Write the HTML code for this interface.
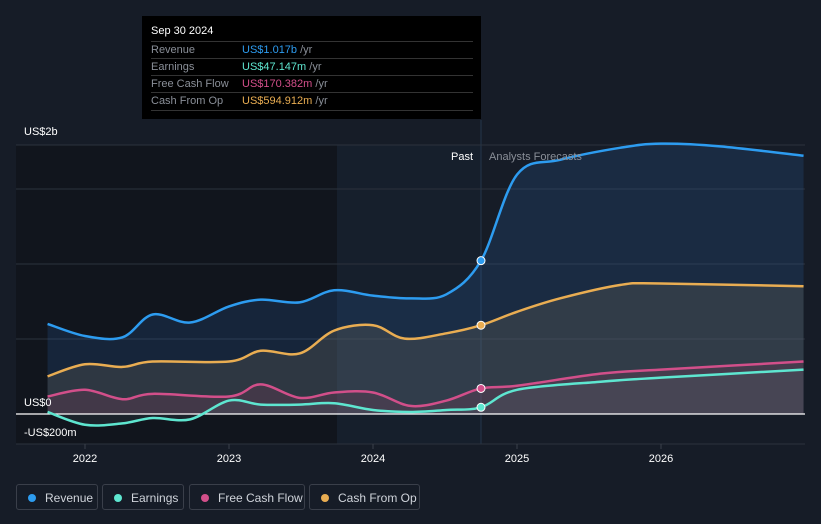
<!DOCTYPE html>
<html><head><meta charset="utf-8"><style>
body{margin:0;background:#161c27;width:821px;height:524px;overflow:hidden;font-family:"Liberation Sans",sans-serif}
svg{position:absolute;left:0;top:0}
.tt{position:absolute;left:142px;top:16px;width:339px;height:103px;background:#000;color:#fff;font-size:11px}
.tt .h{position:absolute;left:9px;top:9px;font-size:11px}
.row{position:absolute;left:9px;width:322px;height:17px;border-top:1px solid #333;line-height:17px;color:#8a8f98}
.row span{position:absolute;left:91px}
.lg{position:absolute;top:484px;height:26px;border:1px solid #3a3f4a;border-radius:3px;color:#cfd3da;font-size:12px;line-height:26px;box-sizing:border-box;padding-left:28px}
.lg i{position:absolute;left:11px;top:9px;width:8px;height:8px;border-radius:50%}
</style></head><body>
<svg width="821" height="524" id="chart"></svg>
<div class="tt">
<div class="h">Sep 30 2024</div>
<div class="row" style="top:25px">Revenue<span style="color:#2d9cf0">US$1.017b <b style="font-weight:normal;color:#8a8f98">/yr</b></span></div>
<div class="row" style="top:42px">Earnings<span style="color:#5ee6d0">US$47.147m <b style="font-weight:normal;color:#8a8f98">/yr</b></span></div>
<div class="row" style="top:59px">Free Cash Flow<span style="color:#d24f8a">US$170.382m <b style="font-weight:normal;color:#8a8f98">/yr</b></span></div>
<div class="row" style="top:76px;border-bottom:1px solid #333">Cash From Op<span style="color:#e9ad52">US$594.912m <b style="font-weight:normal;color:#8a8f98">/yr</b></span></div>
</div>
<div class="lg" style="left:16px;width:82px"><i style="background:#2d9cf0"></i>Revenue</div>
<div class="lg" style="left:102px;width:82px"><i style="background:#5ee6d0"></i>Earnings</div>
<div class="lg" style="left:189px;width:116px"><i style="background:#d24f8a"></i>Free Cash Flow</div>
<div class="lg" style="left:309px;width:111px"><i style="background:#e9ad52"></i>Cash From Op</div>
<script>
const revT=[2021.74,2022,2022.26,2022.47,2022.73,2023,2023.22,2023.49,2023.73,2024,2024.26,2024.51,2024.75,2025,2025.3,2025.72,2026,2026.41,2026.99];
const revV=[0.67,0.58,0.57,0.74,0.68,0.80,0.85,0.83,0.92,0.88,0.86,0.89,1.14,1.78,1.89,1.98,2.01,1.99,1.92];
const cfoT=[2021.74,2022,2022.26,2022.47,2023,2023.22,2023.49,2023.73,2024,2024.22,2024.51,2024.75,2025,2025.3,2025.72,2026,2026.99];
const cfoV=[0.28,0.37,0.35,0.39,0.39,0.47,0.45,0.62,0.66,0.56,0.60,0.66,0.76,0.86,0.96,0.97,0.95];
const fcfT=[2021.74,2022,2022.26,2022.47,2023,2023.22,2023.49,2023.73,2024,2024.26,2024.51,2024.75,2025,2025.58,2026,2026.99];
const fcfV=[0.13,0.18,0.11,0.15,0.13,0.22,0.12,0.16,0.16,0.06,0.10,0.19,0.21,0.30,0.33,0.39];
const earT=[2021.74,2022,2022.26,2022.47,2022.73,2023,2023.22,2023.49,2023.73,2024,2024.26,2024.51,2024.75,2025,2025.58,2026,2026.99];
const earV=[0.015,-0.08,-0.07,-0.03,-0.04,0.10,0.07,0.07,0.08,0.03,0.015,0.03,0.05,0.18,0.24,0.27,0.33];
const xTicks=[2022,2023,2024,2025,2026];
const xs=t=>85+(t-2022)*144;
const ys=v=>414-v*134.5;
const NS='http://www.w3.org/2000/svg';
const svg=document.getElementById('chart');
function el(tag,a,parent){const e=document.createElementNS(NS,tag);for(const k in a)e.setAttribute(k,a[k]);(parent||svg).appendChild(e);return e;}
function path(T,V){const p=T.map((t,i)=>[xs(t),ys(V[i])]);let d='M'+p[0][0]+','+p[0][1];
for(let i=0;i<p.length-1;i++){const p0=p[Math.max(0,i-1)],p1=p[i],p2=p[i+1],p3=p[Math.min(p.length-1,i+2)];
d+=` C${p1[0]+(p2[0]-p0[0])/6},${p1[1]+(p2[1]-p0[1])/6} ${p2[0]-(p3[0]-p1[0])/6},${p2[1]-(p3[1]-p1[1])/6} ${p2[0]},${p2[1]}`;}return d;}
let r=el('rect',{x:16,y:145,width:321,height:299,fill:'#11151d'});

r=el('rect',{x:337,y:145,width:144,height:299,fill:'#161f2c'});

el('line',{x1:481,y1:120,x2:481,y2:444,stroke:'#24364b'});
[145,189,264,339,444].forEach(y=>{const g=el('line',{x1:16,y1:y,x2:805,y2:y,stroke:'#2c323d'});
});
const series=[[revT,revV,'#2d9cf0','rgba(45,120,200,0.17)','revenue'],[cfoT,cfoV,'#e9ad52','rgba(120,110,90,0.25)','cash-from-op'],[fcfT,fcfV,'#d24f8a','rgba(160,60,100,0.18)','free-cash-flow'],[earT,earV,'#5ee6d0','rgba(90,120,130,0.15)','earnings']];
series.forEach(([T,V,c,f,n])=>{const d=path(T,V);
const a=el('path',{d:d+` L${xs(T[T.length-1])},414 L${xs(T[0])},414 Z`,fill:f});
});
el('line',{x1:16,y1:414,x2:805,y2:414,stroke:'#fff','stroke-width':1.2});
series.forEach(([T,V,c,f,n])=>{const l=el('path',{d:path(T,V),fill:'none',stroke:c,'stroke-width':2.5});

const i=T.indexOf(2024.75);const m=el('circle',{cx:xs(T[i]),cy:ys(V[i]),r:4,fill:c,stroke:'#fff','stroke-width':1});
});
function txt(x,y,s,a){const t=el('text',Object.assign({x,y,fill:'#fff','font-size':11,'font-family':'Liberation Sans, sans-serif'},a||{}));t.textContent=s;return t;}
let t=txt(24,135,'US$2b');
t=txt(24,406,'US$0');
t=txt(24,436,'-US$200m');
t=txt(473,160,'Past',{'text-anchor':'end'});
t=txt(489,160,'Analysts Forecasts',{fill:'#8a8f98'});
xTicks.forEach(y=>{el('line',{x1:xs(y),y1:444,x2:xs(y),y2:449,stroke:'#3a404b'});
const k=txt(xs(y),462,String(y),{'text-anchor':'middle'});
});
</script>
</body></html>
